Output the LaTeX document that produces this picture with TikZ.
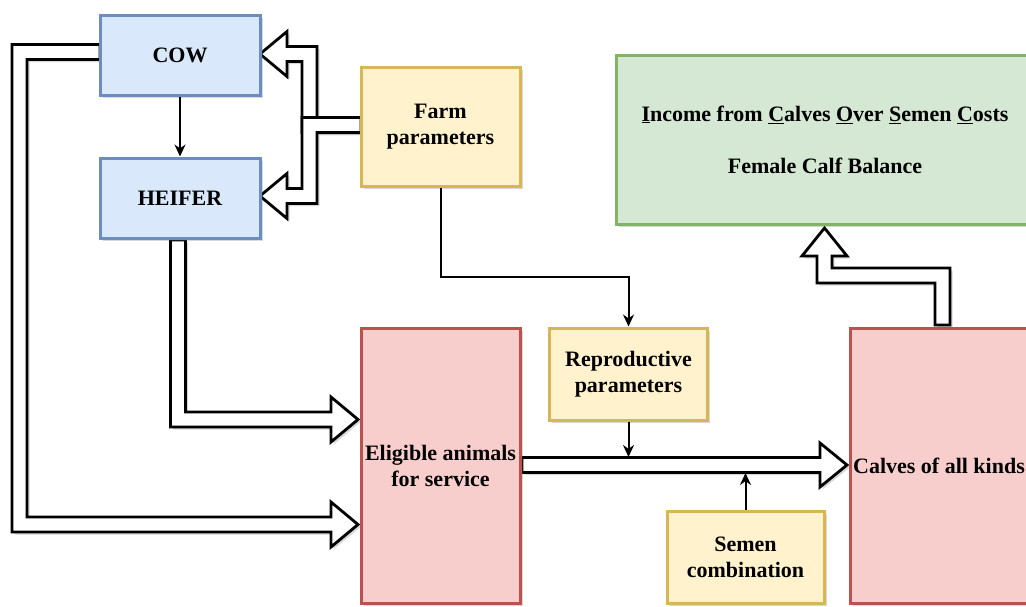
\documentclass[tikz,border=0pt]{standalone}
\usepackage{fontspec}
\setmainfont{Liberation Serif}
\usetikzlibrary{arrows.meta,shadows,calc}
\definecolor{bluefill}{HTML}{DAE8FC}\definecolor{blueline}{HTML}{6C8EBF}
\definecolor{yelfill}{HTML}{FFF2CC}\definecolor{yelline}{HTML}{D6B656}
\definecolor{redfill}{HTML}{F8CECC}\definecolor{redline}{HTML}{B85450}
\definecolor{grnfill}{HTML}{D5E8D4}\definecolor{grnline}{HTML}{82B366}
\tikzset{
  shad/.style={drop shadow={shadow xshift=2.5pt,shadow yshift=-2.5pt,opacity=0.25,fill=black!60}},
  box/.style={draw, line width=3pt, align=center, shad,
    font=\fontsize{22}{26}\selectfont\bfseries, inner sep=0pt},
  bluebox/.style={box, fill=bluefill, draw=blueline},
  yelbox/.style={box, fill=yelfill, draw=yelline},
  redbox/.style={box, fill=redfill, draw=redline},
  grnbox/.style={box, fill=grnfill, draw=grnline},
  flex/.style={draw=black, fill=white, line width=2.8pt, line join=miter, shad},
  thinarr/.style={draw=black, line width=2pt, -{Stealth[length=12pt,width=11pt]}}
}
\begin{document}
\begin{tikzpicture}[x=1pt,y=-1pt]
\useasboundingbox (0,0) rectangle (1026,606);
\clip (0,0) rectangle (1026,606);
\fill[white] (0,0) rectangle (1026,606);

% hollow (flex) arrows
% COW -> Eligible
\path[flex] (100,44.5) -- (12,44.5) -- (12,532) -- (331,532) -- (331,547) -- (358,524.5)
  -- (331,502) -- (331,517) -- (27,517) -- (27,59.5) -- (100,59.5) -- cycle;
% HEIFER -> Eligible
\path[flex] (170.5,240) -- (170.5,427) -- (331,427) -- (331,442) -- (358,419.5)
  -- (331,397) -- (331,412) -- (185.5,412) -- (185.5,240) -- cycle;
% Farm -> COW
\path[flex] (361,117.5) -- (317,117.5) -- (317,46.5) -- (287,46.5) -- (287,31.5) -- (260,54)
  -- (287,76.5) -- (287,61.5) -- (302,61.5) -- (302,132.5) -- (361,132.5) -- cycle;
% Farm -> HEIFER
\path[flex] (361,117.5) -- (302,117.5) -- (302,188.5) -- (287,188.5) -- (287,173.5) -- (260,196)
  -- (287,218.5) -- (287,203.5) -- (317,203.5) -- (317,132.5) -- (361,132.5) -- cycle;
% Eligible -> Calves
\path[flex] (522,457.5) -- (820,457.5) -- (820,443) -- (847,465) -- (820,487) -- (820,472.5)
  -- (522,472.5) -- cycle;
% Calves -> result
\path[flex] (935,325) -- (935,283) -- (817,283) -- (817,256) -- (802,256) -- (824.5,228)
  -- (847,256) -- (832,256) -- (832,268) -- (950,268) -- (950,325) -- cycle;

% nodes
\node[bluebox, minimum width=160pt, minimum height=80pt] (cow) at (180,55) {COW};
\node[bluebox, minimum width=160pt, minimum height=80pt] (heifer) at (180,198) {HEIFER};
\node[yelbox, minimum width=159pt, minimum height=119pt] (farm) at (440.5,126.5) {Farm\\parameters};
\node[yelbox, minimum width=158pt, minimum height=92pt] (repro) at (628.5,374) {Reproductive\\parameters};
\node[yelbox, minimum width=157pt, minimum height=92pt] (semen) at (745.5,557) {Semen\\combination};
\node[redbox, minimum width=159pt, minimum height=275pt] (elig) at (440.5,465.5) {Eligible animals\\for service};
\node[redbox, minimum width=186pt, minimum height=275pt] (calves) at (943,465.5) {\hspace*{-8pt}Calves of all kinds};
\node[grnbox, minimum width=418pt, minimum height=169pt] (result) at (825,139.5)
  {\underline{I}ncome from \underline{C}alves \underline{O}ver \underline{S}emen \underline{C}osts\\[26pt]Female Calf Balance};

% thin arrows
\coordinate (shafttop) at (628.5,457);
\coordinate (shaftbot) at (745.5,473);
\draw[thinarr] (cow.south) -- (heifer.north);
\draw[thinarr] (farm.south) -- ++(0,89) -| (repro.north);
\draw[thinarr] (repro.south) -- (shafttop);
\draw[thinarr] (semen.north) -- (shaftbot);
\end{tikzpicture}
\end{document}
